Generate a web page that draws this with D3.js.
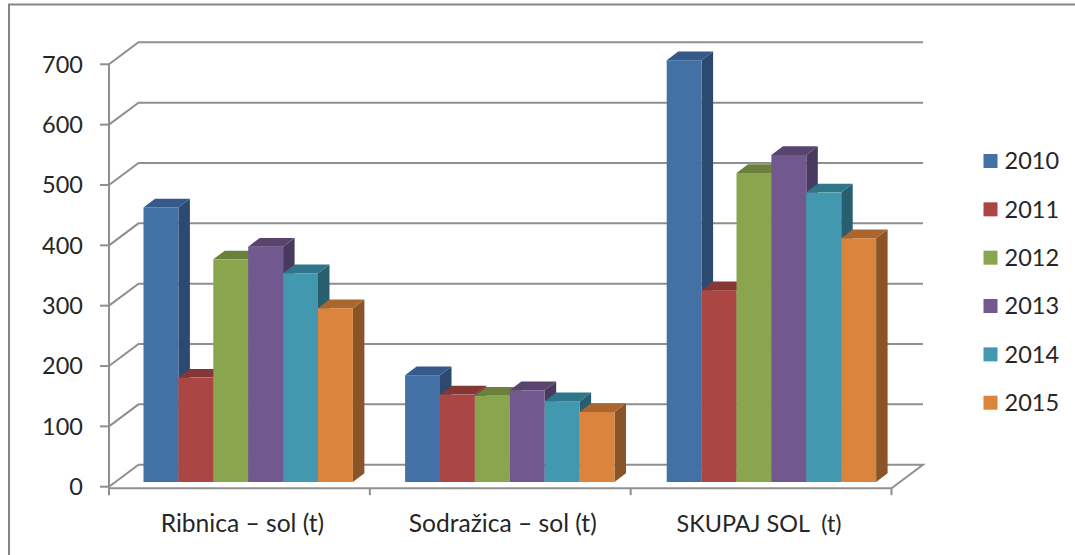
<!DOCTYPE html>
<html><head><meta charset="utf-8">
<script src="https://cdn.jsdelivr.net/npm/d3@7"></script>
<style>html,body{margin:0;padding:0;background:#fff}svg{display:block}</style>
</head><body><svg id="c" width="1075" height="555"></svg>
<script>
const categories = ["Ribnica – sol (t)", "Sodražica – sol (t)", "SKUPAJ SOL  (t)"];
const years = ["2010", "2011", "2012", "2013", "2014", "2015"];
const v2010 = [455, 177, 699];
const v2011 = [173, 145, 318];
const v2012 = [369, 143, 512];
const v2013 = [390, 152, 542];
const v2014 = [346, 134, 480];
const v2015 = [288, 116, 404];
const seriesValues = [v2010, v2011, v2012, v2013, v2014, v2015];
const tickValues = [0, 100, 200, 300, 400, 500, 600, 700];
const frontColors = ["#4371A6", "#AA4643", "#89A54E", "#71588F", "#4198AF", "#DB843D"];
const topColors = ["#34598A", "#843735", "#6A803B", "#58446F", "#307688", "#A9662E"];
const sideColors = ["#2C4A70", "#6F2E2C", "#5A6D32", "#4A395E", "#285F6E", "#8A5428"];

const svg = d3.select("#c");
const font = "Lato, 'Open Sans', sans-serif";
const ink = "#262626", grid = "#8f8f8f";
svg.append("path").attr("d", "M1075,4.5H9V555")
  .attr("fill", "none").attr("stroke", "#868686").attr("stroke-width", 2);

const depth = {x: 29.5, y: -22};
const barDepth = {x: 11.5, y: -8.7};
const y = d3.scaleLinear().domain([0, 700]).range([486.7, 64.3]);
const x0 = d3.scaleBand().domain(categories).range([109, 891.5]);
const barGroups = d3.scaleBand().domain(categories).range([143.5, 928.3]);
const x1 = d3.scaleBand().domain(years).range([0, 209.4]);
const barBase = 482;
const barY = v => barBase - (y(0) - y(v));

// walls
const g = svg.append("g").attr("fill", "none").attr("stroke", grid).attr("stroke-width", 2);
tickValues.forEach(t => {
  const p = d3.path();
  p.moveTo(109, y(t));
  p.lineTo(109 + depth.x, y(t) + depth.y);
  p.lineTo(x0.range()[1] + depth.x + 2, y(t) + depth.y);
  if (t === 0) p.lineTo(x0.range()[1], y(t) + 1.5);
  g.append("path").attr("d", p.toString());
  g.append("line").attr("x1", 100).attr("x2", 109).attr("y1", y(t)).attr("y2", y(t));
});
g.append("line").attr("x1", 109).attr("x2", 109).attr("y1", y(700)).attr("y2", y(0) + 1);
g.append("line").attr("x1", 108).attr("x2", x0.range()[1]).attr("y1", y(0) + 1.5).attr("y2", y(0) + 1.5);
[...categories.map(c => x0(c)), x0.range()[1]].forEach(px => {
  g.append("line").attr("x1", px).attr("x2", px).attr("y1", y(0) + 1.5).attr("y2", y(0) + 8.5);
});

// bars
categories.forEach((c, ci) => {
  const left = barGroups(c);
  d3.range(years.length).forEach(si => {
    const v = seriesValues[si][ci];
    const bx = left + x1(years[si]), bw = x1.bandwidth(), ty = barY(v);
    const dx = barDepth.x, dy = barDepth.y;
    svg.append("polygon").attr("fill", sideColors[si])
      .attr("points", [[bx + bw, ty], [bx + bw + dx, ty + dy], [bx + bw + dx, barBase + dy], [bx + bw, barBase]].join(" "));
    svg.append("polygon").attr("fill", topColors[si])
      .attr("points", [[bx, ty], [bx + dx, ty + dy], [bx + bw + dx, ty + dy], [bx + bw, ty]].join(" "));
    svg.append("rect").attr("x", bx).attr("y", ty).attr("width", bw).attr("height", barBase - ty)
      .attr("fill", frontColors[si]);
  });
});

// tick labels
svg.append("g").selectAll("text").data(tickValues).join("text")
  .attr("x", 83).attr("y", d => y(d)).attr("dy", "0.36em").attr("text-anchor", "end")
  .attr("font-family", font).attr("font-size", 23.5).attr("fill", ink).text(d => d);
svg.append("g").selectAll("text").data(categories).join("text")
  .attr("x", (d, i) => x0(d) + x0.bandwidth() / 2 + [3, 2.5, -2][i]).attr("y", 532).attr("text-anchor", "middle")
  .attr("font-family", font).attr("font-size", (d, i) => i === 2 ? 23.4 : 24.6).attr("fill", ink)
  .style("white-space", "pre").text(d => d);

// legend
const legY = d3.scalePoint().domain(years).range([161, 402.7]);
const leg = svg.append("g");
leg.selectAll("rect").data(years).join("rect")
  .attr("x", 983.5).attr("y", d => legY(d) - 7).attr("width", 14).attr("height", 14)
  .attr("fill", (d, i) => frontColors[i]);
leg.selectAll("text").data(years).join("text")
  .attr("x", 1004.5).attr("y", d => legY(d)).attr("dy", "0.36em")
  .attr("font-family", font).attr("font-size", 23.5).attr("fill", ink).text(d => d);
</script></body></html>
